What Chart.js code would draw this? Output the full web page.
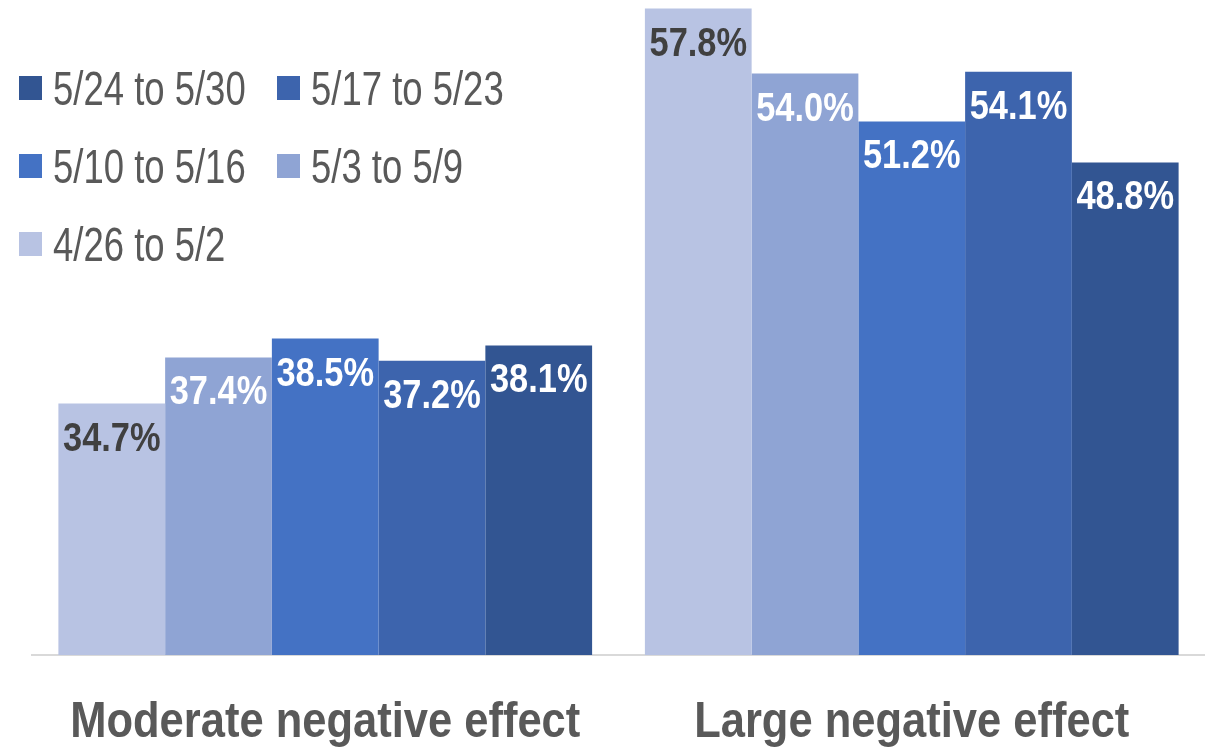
<!DOCTYPE html>
<html>
<head>
<meta charset="utf-8">
<script src="https://cdn.jsdelivr.net/npm/chart.js@4.4.1/dist/chart.umd.min.js"></script>
<style>
  html, body { margin: 0; padding: 0; background: #fff; }
  #wrap { position: relative; width: 1205px; height: 748px; }
  #legend {
    position: absolute; left: 19px; top: 49px;
    display: grid; grid-template-columns: 258px 258px; grid-auto-rows: 78px;
    font-family: "Liberation Sans", Arial, sans-serif;
    font-size: 48px; color: #595959;
  }
  .item { display: flex; align-items: center; white-space: nowrap; }
  .box { width: 23px; height: 24px; margin-right: 11px; flex: none; }
  .txt { display: inline-block; transform: scaleX(0.76); transform-origin: 0 50%; }
</style>
</head>
<body>
<div id="wrap">
  <canvas id="myChart" width="1205" height="748"></canvas>
  <div id="legend"></div>
</div>
<script>
let categories = ['Moderate negative effect', 'Large negative effect']
let periods = ['4/26 to 5/2', '5/3 to 5/9', '5/10 to 5/16', '5/17 to 5/23', '5/24 to 5/30']
let colors = ['#B8C3E3', '#8FA4D4', '#4472C4', '#3D64AD', '#325592']
let labelColors = ['#404040', '#ffffff', '#ffffff', '#ffffff', '#ffffff']
let week1 = [34.7, 57.8]
let week2 = [37.4, 54.0]
let week3 = [38.5, 51.2]
let week4 = [37.2, 54.1]
let week5 = [38.1, 48.8]
let seriesValues = [week1, week2, week3, week4, week5]

const fontFam = '"Liberation Sans", Arial, sans-serif'

// narrow text: no condensed font installed, so squeeze horizontally
function narrowText(ctx, text, x, y, sx) {
    ctx.save()
    ctx.translate(x, y)
    ctx.scale(sx, 1)
    ctx.fillText(text, 0, 0)
    ctx.restore()
}

// value labels inside the top of each bar + category labels under the axis
const barLabels = {
    id: 'barLabels',
    afterDatasetsDraw(chart) {
        let ctx = chart.ctx
        ctx.save()
        ctx.font = 'bold 40px ' + fontFam
        ctx.textAlign = 'center'
        ctx.textBaseline = 'middle'
        chart.data.datasets.forEach((ds, i) => {
            chart.getDatasetMeta(i).data.forEach((bar, j) => {
                ctx.fillStyle = labelColors[i]
                narrowText(ctx, ds.data[j].toFixed(1) + '%', bar.x, bar.y + 36, 0.86)
            })
        })
        let xs = chart.scales.x
        ctx.font = 'bold 50px ' + fontFam
        ctx.textBaseline = 'alphabetic'
        ctx.fillStyle = '#595959'
        categories.forEach((c, i) => {
            narrowText(ctx, c, xs.getPixelForTick(i), 737, 0.87)
        })
        ctx.restore()
    }
}

let datasets = periods.map((p, i) => ({
    label: p,
    data: seriesValues[i],
    backgroundColor: colors[i],
    borderWidth: 0,
    barPercentage: 1,
    categoryPercentage: 0.91
}))

new Chart(document.getElementById('myChart').getContext('2d'), {
    type: 'bar',
    data: { labels: categories, datasets: datasets },
    options: {
        responsive: false,
        animation: false,
        layout: { padding: { left: 32, right: 0, top: 0, bottom: 0 } },
        plugins: { legend: { display: false }, tooltip: { enabled: false } },
        scales: {
            y: { display: false, min: 20, max: 58.3 },
            x: {
                grid: { display: false, drawTicks: false },
                border: { display: true, color: '#D9D9D9', width: 2 },
                ticks: { display: false },
                afterFit: (s) => { s.height = 93 }
            }
        }
    },
    plugins: [barLabels]
})

// legend, newest period first, two columns
let legend = document.getElementById('legend')
for (let i = periods.length - 1; i >= 0; i--) {
    legend.innerHTML += `<div class="item"><span class="box" style="background:${colors[i]}"></span><span class="txt">${periods[i]}</span></div>`
}
</script>
</body>
</html>
